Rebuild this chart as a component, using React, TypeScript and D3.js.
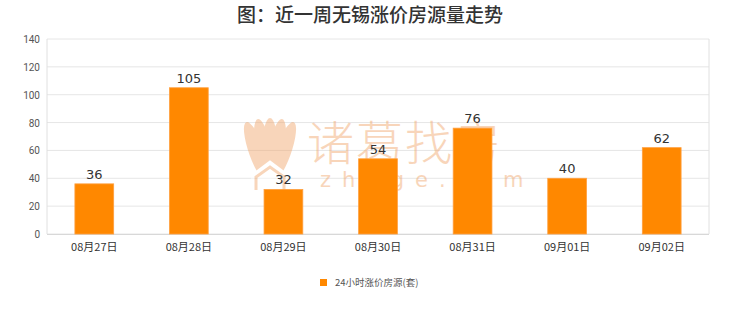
import React from "react";
import * as d3 from "d3";

const categories = ["08月27日", "08月28日", "08月29日", "08月30日", "08月31日", "09月01日", "09月02日"];
const values = [36, 105, 32, 54, 76, 40, 62];
const yTicks = [0, 20, 40, 60, 80, 100, 120, 140];
const title = "图：近一周无锡涨价房源量走势";
const seriesName = "24小时涨价房源(套)";

const W = 740, H = 312;
const left = 47, right = 709, top = 39, bottom = 234;

export default function App() {
  const x = d3.scaleBand<string>().domain(categories).range([left, right]).paddingInner(0.59).paddingOuter(0.295);
  const y = d3.scaleLinear().domain([0, 140]).range([bottom, top]);
  const cjk = "'Noto Sans CJK SC', sans-serif";
  const petals = [-36, -18, 0, 18, 36];
  return (
    <svg width={W} height={H} style={{ position: "absolute", left: 0, top: 0, background: "#fff" }}>
      <rect x={0} y={0} width={W} height={H} fill="#fff" />
      <text x={370} y={22} textAnchor="middle" fontFamily={cjk} fontSize={19} fontWeight={500} fill="#333">{title}</text>
      {yTicks.map(t => (
        <g key={t}>
          <line x1={left} x2={right} y1={y(t)} y2={y(t)} stroke="#e6e6e6" strokeWidth={1} />
          <text x={40} y={y(t) + 4} textAnchor="end" fontFamily="Roboto, sans-serif" fontSize={10} fill="#555">{t}</text>
        </g>
      ))}
      <line x1={left} x2={left} y1={top} y2={bottom} stroke="#e0e0e0" />
      <line x1={right} x2={right} y1={top} y2={bottom} stroke="#e0e0e0" />
      <line x1={left} x2={right} y1={bottom + 0.5} y2={bottom + 0.5} stroke="#d8d8d8" />
      {/* watermark */}
      <g opacity={0.45} fill="#f0a468">
        {petals.map((a, i) => (
          <ellipse key={i} cx={270} cy={150} rx={8} ry={32} transform={`rotate(${a * 0.55} 270 188)`} />
        ))}
        <path d="M254,190 L254,176 L270,164 L286,176 L286,190" fill="#fff" stroke="#fff" strokeWidth={6} />
        <path d="M256,190 L256,177 L270,167 L284,177 L284,190" fill="none" stroke="#f0a468" strokeWidth={3} />
        <text x={405} y={160} textAnchor="middle" fontFamily={cjk} fontSize={47} fontWeight={300} letterSpacing={2}>诸葛找房</text>
        <text x={320} y={187} fontFamily="'DejaVu Sans', sans-serif" fontSize={21} letterSpacing={11}>zhuge.com</text>
      </g>
      {categories.map((c, i) => {
        const bx = x(c)!;
        const v = values[i];
        return (
          <g key={c}>
            <rect x={bx} y={y(v)} width={x.bandwidth()} height={bottom - y(v)} fill="#ff8800" stroke="#ffa040" strokeWidth={0.8} />
            <text x={bx + x.bandwidth() / 2} y={y(v) - 5} textAnchor="middle" fontFamily="'DejaVu Sans', sans-serif" fontSize={13} fill="#333">{v}</text>
            <text x={bx + x.bandwidth() / 2} y={251} textAnchor="middle" fontFamily={cjk} fontSize={11} fill="#333">{c}</text>
          </g>
        );
      })}
      <rect x={320} y={279} width={7} height={7} fill="#ff8800" />
      <text x={335} y={286} fontFamily={cjk} fontSize={9.5} fill="#555">{seriesName}</text>
    </svg>
  );
}
